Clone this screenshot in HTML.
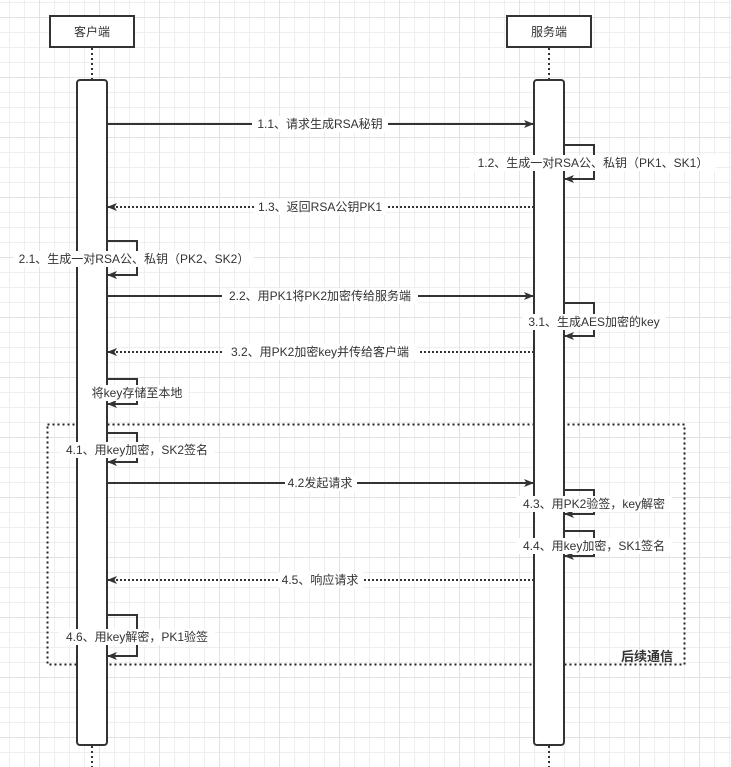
<!DOCTYPE html>
<html><head><meta charset="utf-8"><style>
html,body{margin:0;padding:0;background:#fff;}
svg{display:block;}
text{font-family:"Liberation Sans","Noto Sans CJK SC",sans-serif;font-size:12px;fill:#333;}
</style></head><body>
<svg width="731" height="767" viewBox="0 0 731 767" xmlns="http://www.w3.org/2000/svg">
<defs>
<pattern id="g" x="9" y="2" width="15" height="15" patternUnits="userSpaceOnUse">
<path d="M0 0.5H15M0.5 0V15" stroke="#efefef" stroke-width="1" fill="none"/>
</pattern>
<pattern id="G" x="39" y="17" width="60" height="60" patternUnits="userSpaceOnUse">
<path d="M0 0.5H60M0.5 0V60" stroke="#e2e2e2" stroke-width="1" fill="none"/>
</pattern>
<marker id="a" markerWidth="10" markerHeight="8" refX="9" refY="4" orient="auto" markerUnits="userSpaceOnUse">
<path d="M0 0L10 4L0 8L2.5 4Z" fill="#333"/>
</marker>
</defs>
<rect width="731" height="767" fill="url(#g)"/>
<rect width="731" height="767" fill="url(#G)"/>

<!-- frame -->
<rect x="47.5" y="424.5" width="637" height="240" fill="none" stroke="#222" stroke-width="2" stroke-dasharray="2 3"/>
<text x="673" y="661" text-anchor="end" style="font-weight:bold;font-size:13px">后续通信</text>

<!-- headers -->
<rect x="50" y="16" width="84" height="31" fill="#fff" stroke="#333" stroke-width="2"/>
<text x="92" y="36" text-anchor="middle">客户端</text>
<rect x="507" y="16" width="84" height="31" fill="#fff" stroke="#333" stroke-width="2"/>
<text x="549" y="36" text-anchor="middle">服务端</text>

<!-- lifelines -->
<g stroke="#333" stroke-width="2" stroke-dasharray="2 3">
<path d="M92 48V80M92 746V767M549 48V80M549 746V767"/>
</g>
<rect x="77" y="80" width="30" height="665" rx="3" fill="#fff" stroke="#333" stroke-width="2"/>
<rect x="534" y="80" width="30" height="665" rx="3" fill="#fff" stroke="#333" stroke-width="2"/>

<g stroke="#333" stroke-width="2" fill="none">
<!-- solid arrows -->
<path d="M107 124H533" marker-end="url(#a)"/>
<path d="M107 296H533" marker-end="url(#a)"/>
<path d="M107 483H533" marker-end="url(#a)"/>
<!-- dotted returns -->
<path d="M534 207H108" stroke-dasharray="2 2" marker-end="url(#a)"/>
<path d="M534 352H108" stroke-dasharray="2 2" marker-end="url(#a)"/>
<path d="M534 580H108" stroke-dasharray="2 2" marker-end="url(#a)"/>
<!-- server loops -->
<path d="M564 145H594V179H565" marker-end="url(#a)"/>
<path d="M564 303H594V336H565" marker-end="url(#a)"/>
<path d="M564 490H594V514H565" marker-end="url(#a)"/>
<path d="M564 531H594V556H565" marker-end="url(#a)"/>
<!-- client loops -->
<path d="M107 241H137V275H108" marker-end="url(#a)"/>
<path d="M107 379H137V404H108" marker-end="url(#a)"/>
<path d="M107 433H137V462H108" marker-end="url(#a)"/>
<path d="M107 615H137V656H108" marker-end="url(#a)"/>
</g>

<!-- labels with white bg -->
<g fill="#fff">
<rect x="252" y="116" width="136" height="16"/>
<rect x="470" y="155" width="246" height="16"/>
<rect x="254" y="199" width="132" height="16"/>
<rect x="14" y="251" width="240" height="16"/>
<rect x="222" y="288" width="196" height="16"/>
<rect x="522" y="314" width="144" height="16"/>
<rect x="224" y="344" width="194" height="16"/>
<rect x="88" y="385" width="100" height="16"/>
<rect x="60" y="442" width="154" height="16"/>
<rect x="285" y="475" width="72" height="16"/>
<rect x="516" y="496" width="156" height="16"/>
<rect x="516" y="538" width="156" height="16"/>
<rect x="279" y="572" width="84" height="16"/>
<rect x="59" y="629" width="156" height="16"/>
</g>
<text x="320" y="128" text-anchor="middle">1.1、请求生成RSA秘钥</text>
<text x="593" y="167" text-anchor="middle">1.2、生成一对RSA公、私钥（PK1、SK1）</text>
<text x="320" y="211" text-anchor="middle">1.3、返回RSA公钥PK1</text>
<text x="134" y="263" text-anchor="middle">2.1、生成一对RSA公、私钥（PK2、SK2）</text>
<text x="320" y="300" text-anchor="middle">2.2、用PK1将PK2加密传给服务端</text>
<text x="594" y="326" text-anchor="middle">3.1、生成AES加密的key</text>
<text x="320" y="356" text-anchor="middle">3.2、用PK2加密key并传给客户端</text>
<text x="137" y="397" text-anchor="middle">将key存储至本地</text>
<text x="137" y="454" text-anchor="middle">4.1、用key加密，SK2签名</text>
<text x="320" y="487" text-anchor="middle">4.2发起请求</text>
<text x="594" y="508" text-anchor="middle">4.3、用PK2验签，key解密</text>
<text x="594" y="550" text-anchor="middle">4.4、用key加密，SK1签名</text>
<text x="320" y="584" text-anchor="middle">4.5、响应请求</text>
<text x="137" y="641" text-anchor="middle">4.6、用key解密，PK1验签</text>
</svg>
</body></html>
